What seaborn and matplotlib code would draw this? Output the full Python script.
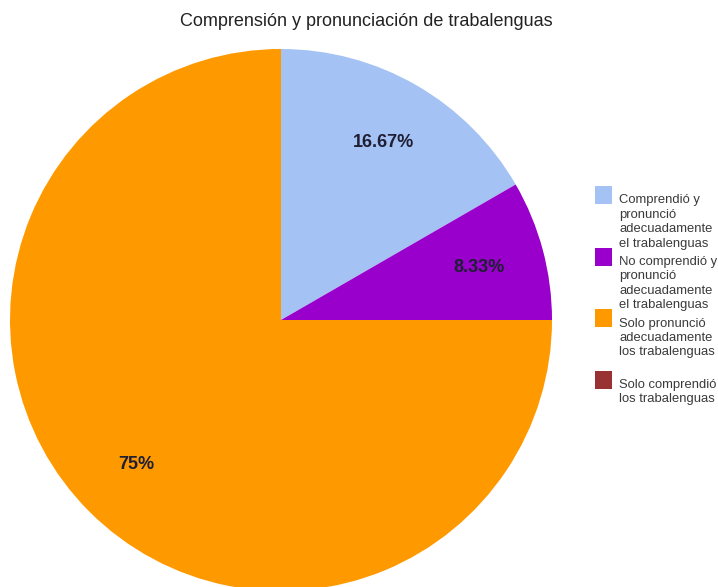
import matplotlib
matplotlib.use("Agg")
import matplotlib.pyplot as plt
from matplotlib.patches import Rectangle
import seaborn as sns

# Survey results: counts of students per outcome
categories = [
    "Comprendió y\npronunció\nadecuadamente\nel trabalenguas",
    "No comprendió y\npronunció\nadecuadamente\nel trabalenguas",
    "Solo pronunció\nadecuadamente\nlos trabalenguas",
    "Solo comprendió\nlos trabalenguas",
]
counts = [2, 1, 9, 0]
slice_colors = ["#a4c2f4", "#9900cc", "#ff9900", "#993333"]
title = "Comprensión y pronunciación de trabalenguas"

sns.set_theme(style="white")
plt.rcParams["font.family"] = ["Liberation Sans", "DejaVu Sans"]

W, H = 718, 587
fig = plt.figure(figsize=(W / 100, H / 100), dpi=100)
fig.patch.set_facecolor("white")

# Pie: centre (281, 320) px, radius 271 px
cx, cy, r = 281, 320, 271
ax = fig.add_axes([(cx - r) / W, (H - cy - r) / H, 2 * r / W, 2 * r / H])


def fmt_pct(p):
    if p <= 0:
        return ""
    return f"{p:.2f}".rstrip("0").rstrip(".") + "%"


palette = sns.color_palette(slice_colors)
wedges, texts = ax.pie(
    counts,
    colors=palette,
    startangle=90,
    counterclock=False,
    autopct=fmt_pct,
    pctdistance=0.755,
    wedgeprops=dict(linewidth=0),
    textprops=dict(fontsize=13, fontweight="bold", color="#1f1f33"),
)[:2]
for w in wedges:
    w.set_clip_on(False)
ax.set_xlim(-1, 1)
ax.set_ylim(-1, 1)
ax.set_aspect("equal")
ax.axis("off")

fig.text(366 / W, 1 - 22 / H, title, ha="center", va="center",
         fontsize=13.0, color="#222222")

# Legend on the right
sw_x, sw_w, sw_h = 595, 17, 18
text_x = 619
top0, step = 186, 61.5
for i, (lab, col) in enumerate(zip(categories, palette)):
    top = top0 + i * step
    fig.add_artist(Rectangle((sw_x / W, 1 - (top + sw_h) / H), sw_w / W, sw_h / H,
                             transform=fig.transFigure, facecolor=col,
                             edgecolor="none"))
    fig.text(text_x / W, 1 - (top + 8.5) / H, lab, ha="left", va="top",
             fontsize=9.4, color="#3a3a3a", linespacing=1.27)

fig.savefig("out.png", dpi=100)
